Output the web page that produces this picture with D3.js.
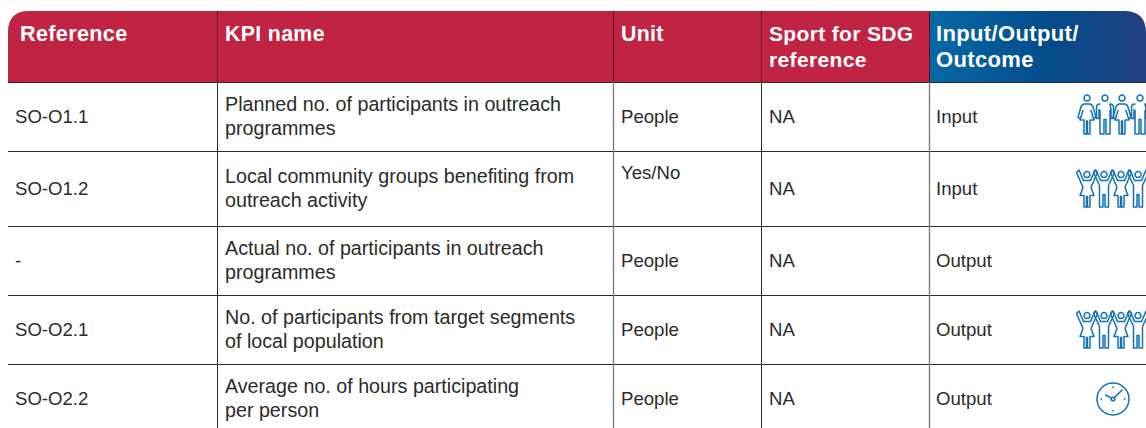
<!DOCTYPE html>
<html>
<head>
<meta charset="utf-8">
<title>KPI table</title>
<style>
html, body { margin: 0; padding: 0; background: #fff; }
svg { display: block; }
text { font-family: "Liberation Sans", Arial, sans-serif; }
.cell { font-size: 18.6px; fill: #2a2a2a; }
.kpi { font-size: 19.7px; }
.head { font-weight: bold; fill: #fff; letter-spacing: 0.35px; }
.person, .clock { fill: none; stroke: url(#iconBlue); stroke-width: 1.5; stroke-linejoin: round; stroke-linecap: round; }
</style>
</head>
<body>
<svg width="1146" height="428"></svg>
<script src="https://cdn.jsdelivr.net/npm/d3@7"></script>
<script>
// table content
var columns = ["Reference", "KPI name", "Unit", "Sport for SDG\nreference", "Input/Output/\nOutcome"];
var references = ["SO-O1.1", "SO-O1.2", "-", "SO-O2.1", "SO-O2.2"];
var kpiNames = [
  "Planned no. of participants in outreach\nprogrammes",
  "Local community groups benefiting from\noutreach activity",
  "Actual no. of participants in outreach\nprogrammes",
  "No. of participants from target segments\nof local population",
  "Average no. of hours participating\nper person"
];
var units = ["People", "Yes/No", "People", "People", "People"];
var sdgRefs = ["NA", "NA", "NA", "NA", "NA"];
var stages = ["Input", "Input", "Output", "Output", "Output"];
var icons = ["standing", "raised", "", "raised", "clock"];

var svg = d3.select("svg");

// layout of the grid
var colEdges = [8, 217, 613, 761, 929, 1160];
var headTop = 11, headBottom = 82;
var rowEdges = [82, 151, 226, 295, 364, 432];
var lineGap = 24;

var rowIndex = d3.range(references.length);
var y = d3.scaleOrdinal().domain(rowIndex).range(rowIndex.map(function(i) { return (rowEdges[i] + rowEdges[i + 1]) / 2; }));

var defs = svg.append("defs");
var grad = defs.append("linearGradient").attr("id", "headBlue");
grad.append("stop").attr("offset", "0").attr("stop-color", "#0868a6");
grad.append("stop").attr("offset", "0.55").attr("stop-color", "#034c8c");
grad.append("stop").attr("offset", "1").attr("stop-color", "#223f80");
var iconGrad = defs.append("linearGradient").attr("id", "iconBlue")
  .attr("gradientUnits", "userSpaceOnUse").attr("x1", 1075).attr("x2", 1146);
iconGrad.append("stop").attr("offset", "0").attr("stop-color", "#0f71b3");
iconGrad.append("stop").attr("offset", "1").attr("stop-color", "#0f5a9f");

// header band, rounded at both outer corners
function headerPath(x0, x1, rl, rr) {
  return "M" + x0 + "," + headBottom + "V" + (headTop + rl) + "Q" + x0 + "," + headTop + " " + (x0 + rl) + "," + headTop +
    "H" + (x1 - rr) + "Q" + x1 + "," + headTop + " " + x1 + "," + (headTop + rr) + "V" + headBottom + "Z";
}
svg.append("path").attr("d", headerPath(colEdges[0], colEdges[4], 21, 0)).attr("fill", "#c12443");
svg.append("path").attr("d", headerPath(colEdges[4] + 1, 1146, 0, 22)).attr("fill", "url(#headBlue)");

// grid lines
svg.selectAll(".hline").data(rowEdges).enter().append("line")
  .attr("class", "hline")
  .attr("x1", colEdges[0]).attr("x2", 1146)
  .attr("y1", function(d) { return d + 0.5; }).attr("y2", function(d) { return d + 0.5; })
  .attr("stroke", "#2b2b2b").attr("stroke-width", 1);

var inner = colEdges.slice(1, 5);
var greyLine = [false, true, false, true];
svg.selectAll(".vhead").data(inner).enter().append("line")
  .attr("class", "vhead")
  .attr("x1", function(d) { return d + 0.5; }).attr("x2", function(d) { return d + 0.5; })
  .attr("y1", headTop).attr("y2", headBottom)
  .attr("stroke", "#5a1122").attr("stroke-width", 1);
svg.selectAll(".vbody").data(inner).enter().append("line")
  .attr("class", "vbody")
  .attr("x1", function(d) { return d + 0.5; }).attr("x2", function(d) { return d + 0.5; })
  .attr("y1", headBottom).attr("y2", 428)
  .attr("stroke", function(d, i) { return greyLine[i] ? "#808080" : "#2b2b2b"; })
  .attr("stroke-width", function(d, i) { return greyLine[i] ? 1.4 : 1; });

// multi-line text helper
function addLines(sel, cx, cy, str, cls) {
  var lines = str.split("\n");
  var t = sel.append("text").attr("x", cx).attr("class", cls || null);
  lines.forEach(function(l, i) {
    t.append("tspan").attr("x", cx)
      .attr("y", cy + (i - (lines.length - 1) / 2) * lineGap + 6.5)
      .text(l);
  });
  return t;
}

// header labels
var headX = [20, 225, 621, 769, 936];
var headSize = [21.6, 21.3, 21.3, 21, 22];
columns.forEach(function(c, i) {
  var lines = c.split("\n");
  var t = svg.append("text").attr("class", "head").attr("font-size", headSize[i]);
  lines.forEach(function(l, j) {
    t.append("tspan").attr("x", headX[i]).attr("y", 40.5 + j * 26).text(l);
  });
});

// body cells
var cellX = [15, 225, 621, 769, 936];
var body = svg.append("g").attr("class", "cell");
rowIndex.forEach(function(i) {
  addLines(body, cellX[0], y(i), references[i]);
  addLines(body, cellX[1], y(i), kpiNames[i], "kpi");
  // the Yes/No cell sits higher in the source table
  addLines(body, cellX[2], units[i] === "Yes/No" ? y(i) - 16 : y(i), units[i]);
  addLines(body, cellX[3], y(i), sdgRefs[i]);
  addLines(body, cellX[4], y(i), stages[i]);
});

// pictograms, drawn around the row centre
var headRing = function(cy) { return "M0," + (cy - 3) + "a3,3 0 1,0 0.01,0"; };
var woman = headRing(-18.5) + "M-3,-12.5C-5,-12 -6,-10.5 -6.5,-8L-9,1L-6.5,2L-4,-6L-7,3.5H-3V17.5H-0.5V4.5H0.5V17.5H3V3.5H7L4,-6L6.5,2L9,1L6.5,-8C6,-10.5 5,-12 3,-12.5Z";
var man = headRing(-18.5) + "M-5,-12.5C-7,-12.5 -8.5,-11.5 -8.5,-9V2H-6V-7M-5,-6V17.5H-1V3H1V17.5H5V-6M6,-7V2H8.5V-9C8.5,-11.5 7,-12.5 5,-12.5Z";
var womanUp = headRing(-14) + "M-8,-18.5L-10.5,-16L-5,-3.5L-4,-1L-7,7H-3V18.5H-0.5V8H0.5V18.5H3V7H7L4,-1L5,-3.5L10.5,-16L8,-18.5L3.5,-8H-3.5Z";
var manUp = headRing(-14) + "M-8,-18.5L-10.5,-16L-4.5,-3V18.5H-1V6H1V18.5H4.5V-3L10.5,-16L8,-18.5L3.5,-8H-3.5Z";

var standingX = [1087, 1105, 1122, 1140];
var raisedX = [1087, 1104, 1121, 1138];
function drawPeople(rowI, type) {
  var g = svg.append("g");
  g.selectAll("path").data(type === "raised" ? raisedX : standingX).enter().append("path")
    .attr("class", "person")
    .attr("transform", function(d) { return "translate(" + d + "," + y(rowI) + ")"; })
    .attr("d", function(d, i) {
      if (type === "raised") return i % 2 ? manUp : womanUp;
      return i % 2 ? man : woman;
    });
}
function drawClock(rowI) {
  var g = svg.append("g").attr("transform", "translate(1113," + (y(rowI) + 1) + ")").attr("class", "clock");
  g.append("circle").attr("r", 16);
  g.append("circle").attr("r", 1.8);
  g.append("path").attr("d", "M-1.5,-0.8L-7.5,-4M1.3,-1.3L9,-9");
  g.append("path").attr("d", "M0,-12v0.6M0,11.4v0.6M-12,0h0.6M11.4,0h0.6");
}
rowIndex.forEach(function(i) {
  if (icons[i] === "clock") drawClock(i);
  else if (icons[i]) drawPeople(i, icons[i]);
});
</script>
</body>
</html>
